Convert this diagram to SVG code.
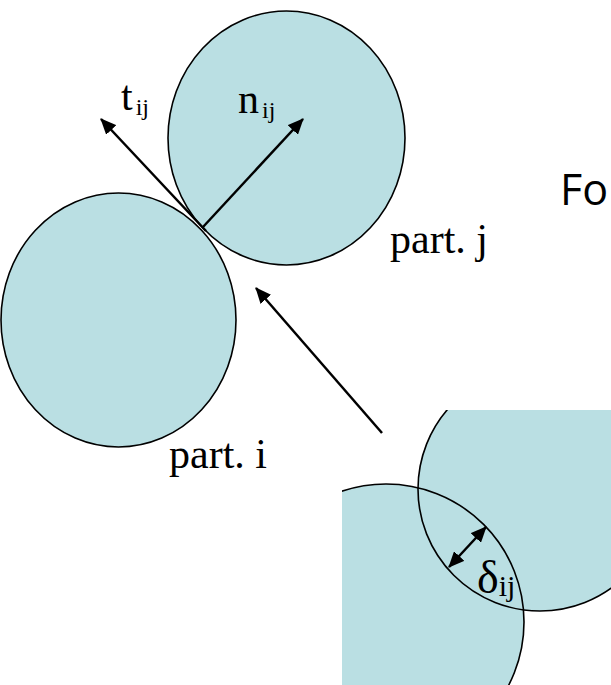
<svg xmlns="http://www.w3.org/2000/svg" width="611" height="685" viewBox="0 0 611 685">
<style>
.part{fill:#BADFE3;stroke:#000;stroke-width:1.6}
.fillonly{fill:#BADFE3;stroke:none}
.edge{fill:none;stroke:#000;stroke-width:1.6}
.lbl{font-family:"Liberation Serif","Times New Roman",serif;font-size:42px;fill:#000}
.sub{font-size:24px}
.arr{stroke:#000;stroke-width:2.5;fill:none}
.side{font-family:"Open Sans","Noto Sans",sans-serif;font-size:43px;fill:#000}
</style>
<defs>
<marker id="ah" markerUnits="userSpaceOnUse" markerWidth="16" markerHeight="14" refX="15" refY="7" orient="auto">
<path d="M0,0 L16,7 L0,14 z" fill="#000"/>
</marker>
<marker id="ahs" markerUnits="userSpaceOnUse" markerWidth="16" markerHeight="14" refX="1" refY="7" orient="auto">
<path d="M16,0 L0,7 L16,14 z" fill="#000"/>
</marker>
<clipPath id="inset"><rect x="342" y="410" width="269" height="275"/></clipPath>
</defs>
<g id="part-i">
<ellipse class="part" cx="118.5" cy="320" rx="117.5" ry="127"/>
<text class="lbl" x="169" y="468">part. i</text>
</g>
<g id="part-j">
<ellipse class="part" cx="286.5" cy="138" rx="118.5" ry="127"/>
<text class="lbl" x="390" y="253">part. j</text>
</g>
<g id="inset-overlap" clip-path="url(#inset)">
<circle class="fillonly" cx="540" cy="489" r="122"/>
<circle class="fillonly" cx="386" cy="622" r="138"/>
<circle class="edge" cx="540" cy="489" r="122"/>
<circle class="edge" cx="386" cy="622" r="138"/>
</g>
<g id="connectors">
<line class="arr" x1="206" y1="231" x2="101" y2="119" marker-end="url(#ah)"/>
<line class="arr" x1="203" y1="227" x2="303" y2="119" marker-end="url(#ah)"/>
<line class="arr" x1="382" y1="433" x2="256" y2="288" marker-end="url(#ah)"/>
<line class="arr" x1="449" y1="567" x2="486" y2="527" marker-start="url(#ahs)" marker-end="url(#ah)"/>
</g>
<g id="labels">
<text class="lbl" x="121" y="110">t<tspan class="sub" dx="3" dy="5">ij</tspan></text>
<text class="lbl" x="238" y="113">n<tspan class="sub" dx="3" dy="5">ij</tspan></text>
<text class="lbl" x="477" y="593" style="font-size:46px">δ<tspan class="sub" dy="3" style="font-size:30px">ij</tspan></text>
<text class="side" x="560" y="205">For</text>
</g>
</svg>
